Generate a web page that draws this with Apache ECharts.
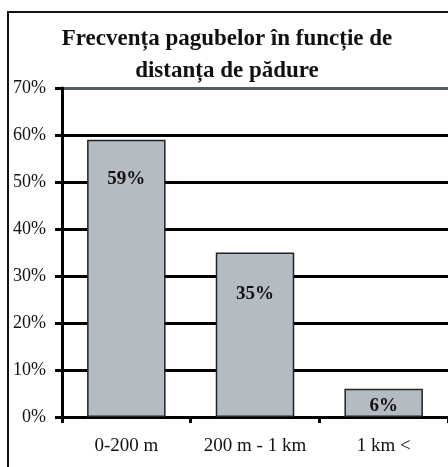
<!DOCTYPE html>
<html>
<head>
<meta charset="utf-8">
<script src="https://cdn.jsdelivr.net/npm/echarts@6/dist/echarts.min.js"></script>
<style>
  html, body { margin: 0; padding: 0; background: #fff; }
  #chart { width: 448px; height: 467px; }
</style>
</head>
<body>
<div id="chart"></div>
<script>
  // data
  var categories = ['0-200 m', '200 m - 1 km', '1 km <'];
  var frequency = [59, 35, 6];
  var labelDistance = [30, 32, 8];

  var serif = '"Liberation Serif", "DejaVu Serif", serif';

  var myChart = echarts.init(document.getElementById('chart'));

  var seriesData = frequency.map(function (v, i) {
    return {
      value: v,
      label: { distance: labelDistance[i] }
    };
  });

  var option = {
    backgroundColor: '#fff',
    animation: false,
    title: {
      text: 'Frecvența pagubelor în funcție de\ndistanța de pădure',
      left: 222,
      textAlign: 'center',
      top: 18,
      textStyle: {
        fontFamily: serif,
        fontSize: 23,
        fontWeight: 'bold',
        color: '#111',
        lineHeight: 32
      }
    },
    graphic: [{
      type: 'rect',
      shape: { x: 8, y: 12, width: 460, height: 480 },
      style: { fill: 'none', stroke: '#111', lineWidth: 2 },
      z: -1
    }],
    grid: { left: 62, top: 88, right: -4, bottom: 50 },
    xAxis: {
      type: 'category',
      data: categories,
      axisLine: { lineStyle: { color: '#000', width: 3 } },
      axisTick: { show: true, length: 6, lineStyle: { color: '#000', width: 3 } },
      axisLabel: {
        fontFamily: serif, fontSize: 19, color: '#111', margin: 20,
        interval: 0, hideOverlap: false
      }
    },
    yAxis: {
      type: 'value',
      min: 0,
      max: 70,
      interval: 10,
      axisLine: { show: true, lineStyle: { color: '#000', width: 3 } },
      axisTick: { show: true, length: 7, lineStyle: { color: '#000', width: 3 } },
      axisLabel: {
        fontFamily: serif, fontSize: 18, color: '#111', margin: 16,
        formatter: '{value}%'
      },
      splitLine: {
        lineStyle: {
          color: ['#000', '#000', '#000', '#000', '#000', '#000', '#000', '#555b63'],
          width: 3
        }
      }
    },
    series: [{
      type: 'bar',
      data: seriesData,
      barWidth: '61%',
      itemStyle: { color: '#b5bbc2', borderColor: '#222', borderWidth: 1.5 },
      label: {
        show: true,
        position: 'insideTop',
        formatter: '{c}%',
        fontFamily: serif,
        fontSize: 19,
        fontWeight: 'bold',
        color: '#111'
      }
    }]
  };

  myChart.setOption(option);
</script>
</body>
</html>
